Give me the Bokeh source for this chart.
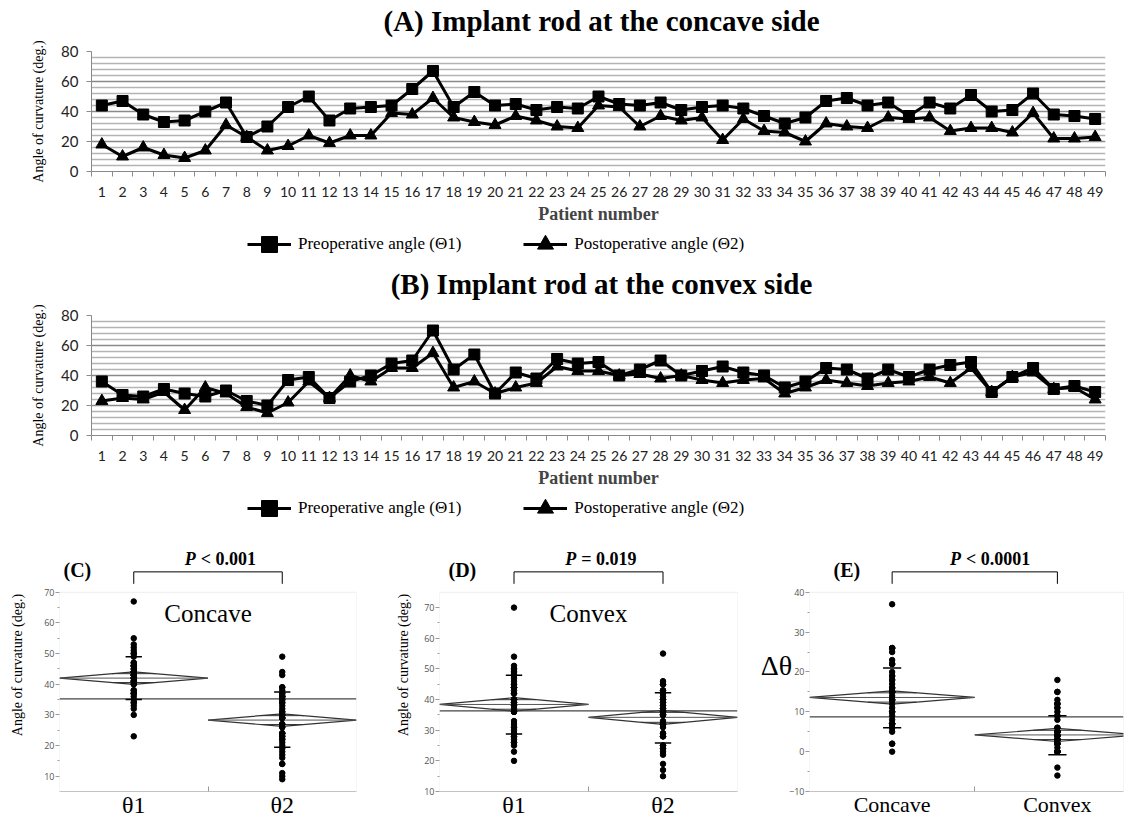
import math
from bokeh.plotting import figure
from bokeh.layouts import column, row
from bokeh.models import (FixedTicker, Range1d, Legend, LegendItem, Label, Arrow,
                          BoxAnnotation)
from bokeh.embed import file_html
from bokeh.resources import INLINE

SERIF = "Liberation Serif"
SANS = "Lato"

# ---------------- data ----------------
patients = list(range(1, 50))

concave_pre = [44, 47, 38, 33, 34, 40, 46, 23, 30, 43,
               50, 34, 42, 43, 44, 55, 67, 43, 53, 44,
               45, 41, 43, 42, 50, 45, 44, 46, 41, 43,
               44, 42, 37, 32, 36, 47, 49, 44, 46, 37,
               46, 42, 51, 40, 41, 52, 38, 37, 35]
concave_post = [18, 10, 16, 11, 9, 14, 31, 23, 14, 17,
                24, 19, 24, 24, 39, 38, 49, 36, 33, 31,
                37, 34, 30, 29, 44, 43, 30, 37, 34, 36,
                21, 35, 27, 26, 20, 32, 30, 29, 36, 35,
                36, 27, 29, 29, 26, 39, 22, 22, 23]
convex_pre = [36, 27, 26, 31, 28, 26, 30, 23, 20, 37,
              39, 25, 36, 40, 48, 50, 70, 44, 54, 28,
              42, 38, 51, 48, 49, 40, 44, 50, 40, 43,
              46, 42, 40, 32, 36, 45, 44, 38, 44, 39,
              44, 47, 49, 29, 39, 45, 31, 33, 29]
convex_post = [23, 25, 24, 29, 17, 32, 28, 19, 15, 22,
               36, 25, 40, 36, 45, 45, 55, 32, 36, 28,
               32, 35, 46, 43, 43, 40, 41, 38, 40, 37,
               35, 37, 38, 28, 32, 37, 35, 33, 35, 36,
               39, 35, 45, 29, 39, 42, 31, 32, 24]

# change of curvature (pre - post) per patient
delta_concave = [a - b for a, b in zip(concave_pre, concave_post)]
delta_convex = [a - b for a, b in zip(convex_pre, convex_post)]

line_yticks = [0, 20, 40, 60, 80]
series_names = ["Preoperative angle (\u03981)", "Postoperative angle (\u03982)"]
panel_titles = ["(A) Implant rod at the concave side", "(B) Implant rod at the convex side"]

c_labels = ["\u03b81", "\u03b82"]
c_mean = [42.0, 28.3]
c_ci = [2.05, 2.05]
c_sd_hi = [49.0, 37.5]
c_sd_lo = [35.0, 19.4]
c_grand = 35.2
c_yticks = [10, 20, 30, 40, 50, 60, 70]

d_labels = ["\u03b81", "\u03b82"]
d_mean = [38.4, 34.2]
d_ci = [2.2, 2.3]
d_sd_hi = [47.9, 42.2]
d_sd_lo = [28.8, 25.8]
d_grand = 36.3
d_yticks = [10, 20, 30, 40, 50, 60, 70]

e_labels = ["Concave", "Convex"]
e_mean = [13.6, 4.2]
e_ci = [1.65, 1.65]
e_sd_hi = [21.0, 9.0]
e_sd_lo = [6.0, -0.8]
e_grand = 8.75
e_yticks = [-10, 0, 10, 20, 30, 40]

p_texts = ["< 0.001", "= 0.019", "< 0.0001"]

W = 1131
BL, BR = 91, 26          # borders of the line panels
STRIP_X = (100, 101)     # x-range of the title / legend strips (data lie outside it)


# ---------------- line panels (A, B) ----------------
def line_panel(pre, post, top_border):
    bottom = 50
    p = figure(width=W, height=top_border + 125 + bottom,
               x_range=Range1d(0.5, 49.5), y_range=Range1d(0, 80),
               output_backend="svg", toolbar_location=None,
               min_border_left=BL, min_border_right=BR,
               min_border_top=top_border, min_border_bottom=bottom)
    p.outline_line_color = None

    p.xgrid.visible = False
    yg = p.ygrid[0]
    yg.grid_line_color = "#8a8a8a"
    yg.grid_line_width = 1.4
    yg.minor_grid_line_color = "#b4b4b4"
    yg.minor_grid_line_width = 1.3

    xa = p.xaxis[0]
    xa.ticker = FixedTicker(ticks=patients, minor_ticks=[n - 0.5 for n in patients] + [patients[-1] + 0.5])
    xa.major_tick_out = 0
    xa.major_tick_in = 0
    xa.minor_tick_out = 5
    xa.minor_tick_in = 0
    xa.minor_tick_line_color = "#8a8a8a"
    xa.axis_line_color = "#8a8a8a"
    xa.major_label_text_font = SANS
    xa.major_label_text_font_size = "14px"
    xa.major_label_text_color = "#222222"
    xa.major_label_standoff = 10
    xa.axis_label = "Patient number"
    xa.axis_label_text_font = SERIF
    xa.axis_label_text_font_style = "bold"
    xa.axis_label_text_font_size = "18px"
    xa.axis_label_standoff = 4

    ya = p.yaxis[0]
    ya.ticker = FixedTicker(ticks=line_yticks,
                            minor_ticks=[v for v in range(0, 81, 4) if v % 20 != 0])
    ya.major_tick_out = 5
    ya.major_tick_in = 0
    ya.minor_tick_out = 0
    ya.minor_tick_in = 0
    ya.major_tick_line_color = "#8a8a8a"
    ya.axis_line_color = "#8a8a8a"
    ya.major_label_text_font = SANS
    ya.major_label_text_font_size = "15px"
    ya.major_label_text_color = "#222222"
    ya.major_label_standoff = 8
    ya.axis_label = "Angle of curvature (deg.)"
    ya.axis_label_text_font = SERIF
    ya.axis_label_text_font_style = "normal"
    ya.axis_label_text_font_size = "14px"
    ya.axis_label_text_color = "black"
    ya.axis_label_standoff = 12

    p.line(patients, pre, line_color="black", line_width=3)
    p.scatter(patients, pre, marker="square", size=11, color="black")
    p.line(patients, post, line_color="black", line_width=3)
    p.scatter(patients, post, marker="triangle", size=12, color="black")
    return p


def strip(height, legend_bottom=None, title=None, title_y=None, pre=None, post=None):
    # a thin strip without axes carrying a panel title and/or the series legend
    p = figure(width=W, height=height, x_range=Range1d(*STRIP_X), y_range=Range1d(0, height),
               output_backend="svg", toolbar_location=None,
               x_axis_location=None, y_axis_location=None,
               min_border_left=BL, min_border_right=BR, min_border_top=0, min_border_bottom=0)
    p.outline_line_color = None
    p.grid.visible = False
    if title is not None:
        p.add_layout(Label(x=sum(STRIP_X) / 2, y=title_y, text=title, text_font=SERIF,
                           text_font_style="bold", text_font_size="29px", text_color="black",
                           text_align="center", text_baseline="middle", x_offset=3))
    if legend_bottom is not None:
        # legend keys share the style of the plotted series (the data fall outside this strip)
        l1 = p.line(patients, pre, line_color="black", line_width=3)
        s1 = p.scatter(patients, pre, marker="square", size=11, color="black")
        l2 = p.line(patients, post, line_color="black", line_width=3)
        s2 = p.scatter(patients, post, marker="triangle", size=12, color="black")
        legend = Legend(items=[LegendItem(label=series_names[0], renderers=[l1, s1]),
                               LegendItem(label=series_names[1], renderers=[l2, s2])],
                        orientation="horizontal", location=(156, legend_bottom),
                        glyph_width=44, glyph_height=40, label_standoff=7, spacing=62,
                        padding=0, margin=0, border_line_color=None,
                        background_fill_alpha=0,
                        label_text_font=SERIF, label_text_font_size="17px",
                        label_text_color="black")
        p.add_layout(legend)
    return p


titleA = strip(40, title=panel_titles[0], title_y=20)
pA = line_panel(concave_pre, concave_post, 11)
stripAB = strip(74, legend_bottom=36, title=panel_titles[1], title_y=17,
                pre=concave_pre, post=concave_post)
pB = line_panel(convex_pre, convex_post, 15)
legB = strip(38, legend_bottom=0, pre=convex_pre, post=convex_post)


# ---------------- means-diamond panels (C, D, E) ----------------
BOX_H = 200      # height of the data box
HEAD = 54        # header zone (tag, P value, bracket) above the data box
TOP_B = 10
BOT_B = 28


def jmp_panel(tag, tag_dx, labels, grp_a, grp_b, mean, ci, sd_hi, sd_lo, grand,
              y0, y1, yticks, ylabel, ylabel_size, ylabel_standoff, horizontal_label,
              inner_text, p_rest, x_end, frame_w, bl, br, xlab_size):
    ppu = BOX_H / (y1 - y0)
    y_top = y1 + HEAD / ppu
    p = figure(width=bl + frame_w + br, height=TOP_B + BOX_H + HEAD + BOT_B,
               x_range=Range1d(0, x_end), y_range=Range1d(y0, y_top),
               output_backend="svg", toolbar_location=None,
               min_border_left=bl, min_border_right=br,
               min_border_top=TOP_B, min_border_bottom=BOT_B)
    p.grid.visible = False
    p.outline_line_color = None
    # data box (JMP frame)
    p.add_layout(BoxAnnotation(left=0, right=x_end, bottom=y0, top=y1,
                               fill_alpha=0, line_color="#c4c4c4", line_width=1))

    centers = [0.5, 1.5]
    # means diamonds
    xs = [[c - 0.5, c, c + 0.5, c] for c in centers]
    ys = [[m, m + h, m, m - h] for m, h in zip(mean, ci)]
    p.patches(xs, ys, fill_color=None, line_color="#333333", line_width=1.2)
    p.segment(x0=[c - 0.5 for c in centers], x1=[c + 0.5 for c in centers],
              y0=mean, y1=mean, line_color="#555555", line_width=1)
    k = 1 / math.sqrt(2)
    w = 0.5 * (1 - k)
    ov_x, ov_y = [], []
    for c, m, h in zip(centers, mean, ci):
        for s in (1, -1):
            ov_x.append(c)
            ov_y.append(m + s * h * k)
    p.segment(x0=[c - w for c in ov_x], x1=[c + w for c in ov_x], y0=ov_y, y1=ov_y,
              line_color="#333333", line_width=1)

    # grand mean
    p.segment(x0=[0], x1=[x_end], y0=[grand], y1=[grand], line_color="#444444", line_width=1.2)

    # points
    for c, vals in zip(centers, (grp_a, grp_b)):
        p.scatter([c] * len(vals), vals, size=5.5, color="black")

    # std dev marks
    sd_x = centers + centers
    sd_y = sd_hi + sd_lo
    p.segment(x0=[c - 0.055 for c in sd_x], x1=[c + 0.055 for c in sd_x], y0=sd_y, y1=sd_y,
              line_color="black", line_width=1.5)

    xa = p.xaxis[0]
    xa.ticker = FixedTicker(ticks=centers, minor_ticks=[1.0])
    xa.major_label_overrides = {0.5: labels[0], 1.5: labels[1]}
    xa.major_tick_out = 0
    xa.major_tick_in = 0
    xa.minor_tick_in = 5
    xa.minor_tick_out = 0
    xa.minor_tick_line_color = "#9a9a9a"
    xa.axis_line_color = "#c4c4c4"
    xa.major_label_text_font = SERIF
    xa.major_label_text_font_size = xlab_size
    xa.major_label_text_color = "black"
    xa.major_label_standoff = 0

    ya = p.yaxis[0]
    ya.ticker = FixedTicker(ticks=yticks, minor_ticks=[t + 5 for t in yticks[:-1]])
    ya.major_tick_out = 4
    ya.major_tick_in = 0
    ya.minor_tick_out = 2
    ya.minor_tick_in = 0
    ya.major_tick_line_color = "#9a9a9a"
    ya.minor_tick_line_color = "#9a9a9a"
    ya.axis_line_color = None
    ya.major_label_text_font = "Open Sans"
    ya.major_label_text_font_size = "9px"
    ya.major_label_text_color = "#555555"
    ya.major_label_standoff = 1
    ya.axis_label = ylabel
    ya.axis_label_text_font = SERIF
    ya.axis_label_text_font_style = "normal"
    ya.axis_label_text_font_size = ylabel_size
    ya.axis_label_text_color = "black"
    ya.axis_label_standoff = ylabel_standoff
    if horizontal_label:
        ya.axis_label_orientation = "horizontal"

    # header: panel tag, P value, bracket
    p.add_layout(Label(x=0, y=y1 + 22 / ppu, x_offset=tag_dx, text=tag, text_color="black",
                       text_font=SERIF, text_font_style="bold", text_font_size="20px",
                       text_baseline="middle", text_align="left"))
    rest_w = 0.185 * 18 * len(p_rest) + 8
    p_w = 12
    start = -(p_w + 5 + rest_w) / 2
    p.add_layout(Label(x=1.0, y=y1 + 33 / ppu, x_offset=start + p_w, text="P",
                       text_color="black",
                       text_font=SERIF, text_font_style="bold italic", text_font_size="18px",
                       text_baseline="middle", text_align="right"))
    p.add_layout(Label(x=1.0, y=y1 + 33 / ppu, x_offset=start + p_w + 5, text=p_rest,
                       text_color="black",
                       text_font=SERIF, text_font_style="bold", text_font_size="18px",
                       text_baseline="middle", text_align="left"))
    yb = y1 + 8.5 / ppu
    yt = y1 + 20.5 / ppu
    for (xs_, ys_, xe_, ye_) in [(centers[0], yb, centers[0], yt),
                                 (centers[0], yt, centers[1], yt),
                                 (centers[1], yt, centers[1], yb)]:
        p.add_layout(Arrow(end=None, x_start=xs_, y_start=ys_, x_end=xe_, y_end=ye_,
                           line_color="black", line_width=1))
    if inner_text:
        p.add_layout(Label(x=1.0, y=y1 - 21 / ppu, text=inner_text, text_color="black",
                           text_font=SERIF, text_font_size="25px",
                           text_baseline="middle", text_align="center"))
    return p


pC = jmp_panel("(C)", 4, c_labels, concave_pre, concave_post, c_mean, c_ci, c_sd_hi, c_sd_lo,
               c_grand, 5, 70, c_yticks, "Angle of curvature (deg.)", "14px", 16, False,
               "Concave", p_texts[0], 2.0, 297, 59, 24, "24px")
pD = jmp_panel("(D)", 9, d_labels, convex_pre, convex_post, d_mean, d_ci, d_sd_hi, d_sd_lo,
               d_grand, 10, 75, d_yticks, "Angle of curvature (deg.)", "14px", 10, False,
               "Convex", p_texts[1], 2.0, 298, 59, 13, "24px")
pE = jmp_panel("(E)", 24, e_labels, delta_concave, delta_convex, e_mean, e_ci, e_sd_hi, e_sd_lo,
               e_grand, -10, 40, e_yticks, "\u0394\u03b8", "28px", -6, True,
               None, p_texts[2], 1.9, 314, 59, 8, "22px")

layout = column(titleA, pA, stripAB, pB, legB, row(pC, pD, pE, spacing=0), spacing=0)

open("out.html", "w").write(file_html(layout, INLINE))
